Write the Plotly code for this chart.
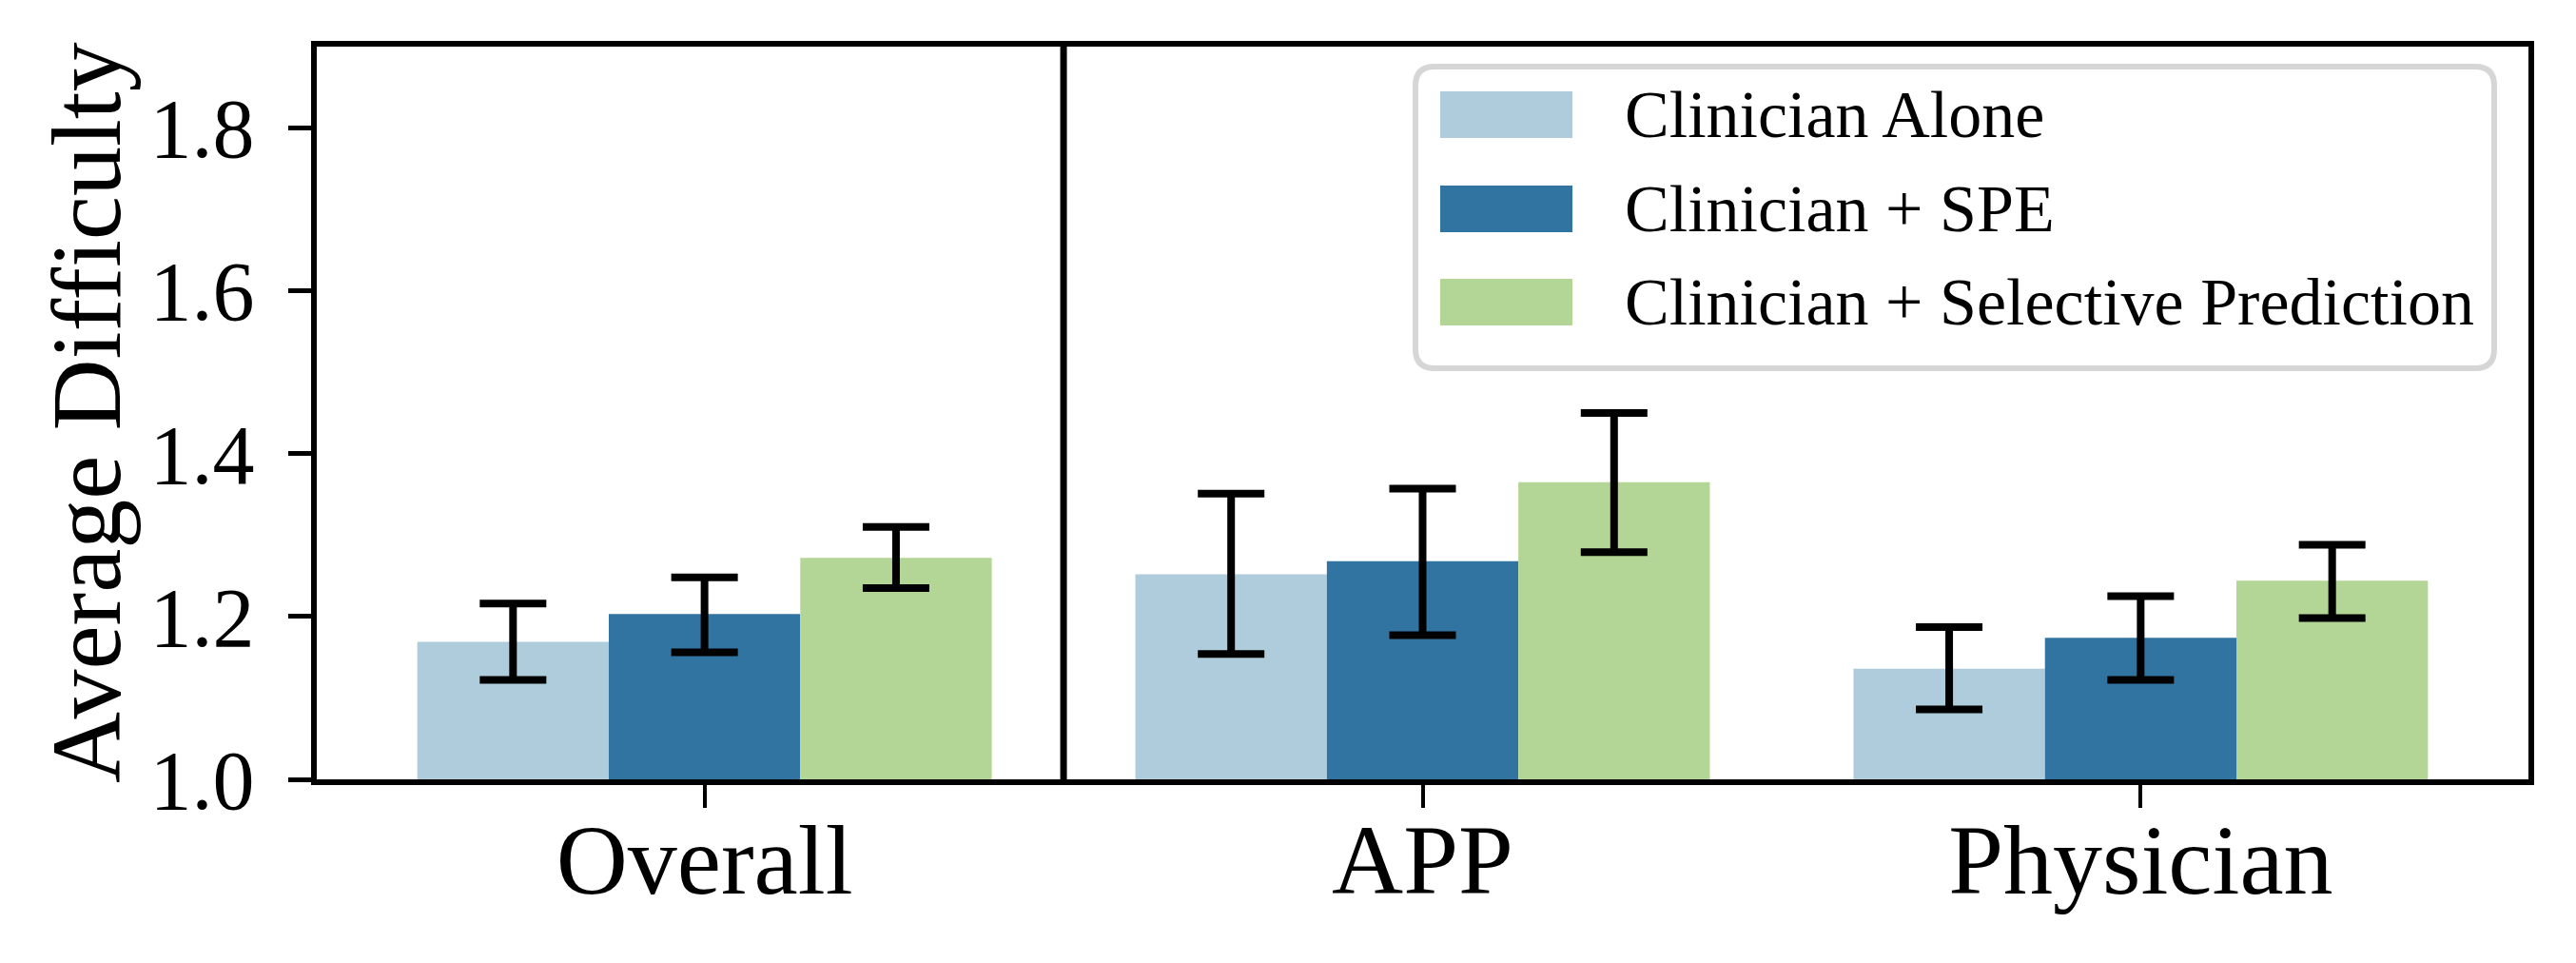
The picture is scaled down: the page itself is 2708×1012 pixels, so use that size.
import plotly.graph_objects as go

# ---------------- data ----------------
categories = ["Overall", "APP", "Physician"]
series_names = ["Clinician Alone", "Clinician + SPE", "Clinician + Selective Prediction"]

alone_mean = [1.169, 1.252, 1.136]
alone_low = [1.122, 1.154, 1.086]
alone_high = [1.216, 1.351, 1.187]

spe_mean = [1.203, 1.268, 1.174]
spe_low = [1.156, 1.177, 1.122]
spe_high = [1.248, 1.357, 1.225]

sel_mean = [1.272, 1.365, 1.244]
sel_low = [1.235, 1.279, 1.198]
sel_high = [1.310, 1.450, 1.288]

y_tick_vals = [1.0, 1.2, 1.4, 1.6, 1.8]
y_tick_text = ["1.0", "1.2", "1.4", "1.6", "1.8"]
y_title = "Average Difficulty"

colors = ["#aeccdb", "#3274a1", "#b3d595"]

# ---------------- layout constants ----------------
W, H = 2708, 1012
L, R, T, B = 333, 50, 49, 193
PW, PH = W - L - R, H - T - B
FONT = "Liberation Serif"


def px(xp):
    return (xp - L) / PW


def py(yp):
    return (H - B - yp) / PH


fig = go.Figure()
series = [
    (alone_mean, alone_low, alone_high),
    (spe_mean, spe_low, spe_high),
    (sel_mean, sel_low, sel_high),
]
for name, color, (m, lo, hi) in zip(series_names, colors, series):
    fig.add_trace(go.Bar(
        x=categories, y=m, name=name,
        marker=dict(color=color, line=dict(width=0)),
        error_y=dict(type="data", symmetric=False,
                     array=[h - v for h, v in zip(hi, m)],
                     arrayminus=[v - l for v, l in zip(m, lo)],
                     color="black", thickness=8, width=35),
        showlegend=False,
    ))

# divider between Overall and the clinician groups
fig.add_shape(type="line", xref="x", yref="paper", x0=0.5, x1=0.5, y0=0, y1=1,
              line=dict(color="black", width=7), layer="above")

# ---------------- custom legend ----------------
fx0, fx1, fy0, fy1 = 1488, 2622, 70, 387
rad = 20
rx, ry = rad / PW, rad / PH
X0, X1, Y0, Y1 = px(fx0), px(fx1), py(fy1), py(fy0)
path = (f"M{X0 + rx},{Y0} L{X1 - rx},{Y0} Q{X1},{Y0} {X1},{Y0 + ry} "
        f"L{X1},{Y1 - ry} Q{X1},{Y1} {X1 - rx},{Y1} "
        f"L{X0 + rx},{Y1} Q{X0},{Y1} {X0},{Y1 - ry} "
        f"L{X0},{Y0 + ry} Q{X0},{Y0} {X0 + rx},{Y0} Z")
fig.add_shape(type="path", xref="paper", yref="paper", path=path,
              line=dict(color="#d6d6d6", width=6), fillcolor="white", layer="above")

row_tops = [96, 195, 293]
sw_h = 49
for name, color, top in zip(series_names, colors, row_tops):
    fig.add_shape(type="rect", xref="paper", yref="paper",
                  x0=px(1514), x1=px(1653), y0=py(top + sw_h), y1=py(top),
                  line=dict(width=0), fillcolor=color, layer="above")
    fig.add_annotation(x=px(1706), y=py(top + sw_h / 2), xref="paper", yref="paper",
                       text=name, showarrow=False, xanchor="left", yanchor="middle",
                       font=dict(family=FONT, size=70, color="black"))

# y-axis title
fig.add_annotation(x=px(90), y=0.5, xref="paper", yref="paper", text=y_title,
                   textangle=-90, showarrow=False, xanchor="center", yanchor="middle",
                   font=dict(family=FONT, size=104, color="black"))

fig.update_layout(
    width=W, height=H,
    margin=dict(l=L, r=R, t=T, b=B, pad=0),
    plot_bgcolor="white", paper_bgcolor="white",
    barmode="group", bargap=0.2, bargroupgap=0,
    font=dict(family=FONT, color="black"),
)
fig.update_xaxes(
    range=[-0.54, 2.54], showgrid=False, zeroline=False,
    showline=True, linecolor="black", linewidth=6, mirror=True,
    ticks="outside", ticklen=24, tickwidth=4, tickcolor="black",
    tickfont=dict(family=FONT, size=104, color="black"), ticklabelstandoff=-35,
)
fig.update_yaxes(
    range=[1.0, 1.9], showgrid=False, zeroline=False,
    showline=True, linecolor="black", linewidth=6, mirror=True,
    tickvals=y_tick_vals, ticktext=y_tick_text,
    ticks="outside", ticklen=24, tickwidth=5, tickcolor="black",
    tickfont=dict(family=FONT, size=88, color="black"), ticklabelstandoff=18,
)

fig.write_html("out.html", config={"displayModeBar": False},
               post_script="document.body.style.margin='0';")
